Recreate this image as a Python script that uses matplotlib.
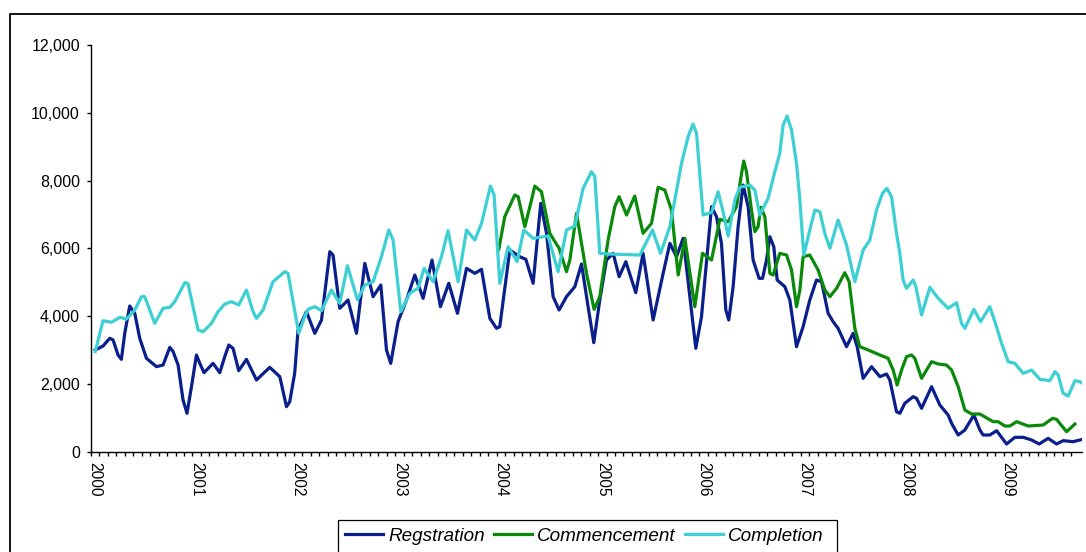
import numpy as np
import matplotlib
matplotlib.use("Agg")
import matplotlib.pyplot as plt
from matplotlib.patches import Rectangle
from matplotlib.ticker import FuncFormatter

# ---- data: time in years since Jan 2000, values in units ----
reg_t = [0.00, 0.077, 0.143, 0.176, 0.225, 0.258, 0.291, 0.340, 0.390, 0.439, 0.505, 0.604, 0.669, 0.735,
         0.767, 0.817, 0.866, 0.905, 0.949, 0.998, 1.031, 1.073, 1.162, 1.228, 1.277, 1.317, 1.359, 1.415,
         1.491, 1.590, 1.721, 1.820, 1.886, 1.918, 1.967, 2.000, 2.083, 2.165, 2.231, 2.313, 2.345, 2.411,
         2.493, 2.576, 2.658, 2.740, 2.816, 2.872, 2.914, 2.986, 3.069, 3.151, 3.233, 3.321, 3.404, 3.486,
         3.572, 3.661, 3.743, 3.809, 3.891, 3.957, 3.989, 4.088, 4.186, 4.246, 4.318, 4.393, 4.450, 4.515,
         4.574, 4.647, 4.729, 4.795, 4.860, 4.916, 4.975, 5.041, 5.107, 5.166, 5.232, 5.330, 5.402, 5.501,
         5.600, 5.666, 5.732, 5.797, 5.922, 5.978, 6.077, 6.126, 6.175, 6.218, 6.247, 6.290, 6.339, 6.388,
         6.438, 6.487, 6.546, 6.580, 6.619, 6.652, 6.691, 6.724, 6.800, 6.849, 6.915, 6.980, 7.046, 7.112,
         7.162, 7.227, 7.276, 7.325, 7.408, 7.473, 7.513, 7.572, 7.655, 7.737, 7.803, 7.835, 7.901, 7.934,
         7.983, 8.065, 8.099, 8.148, 8.247, 8.328, 8.410, 8.444, 8.509, 8.575, 8.664, 8.723, 8.755, 8.821,
         8.888, 8.986, 9.068, 9.150, 9.233, 9.308, 9.396, 9.479, 9.544, 9.643, 9.736]
reg_v = [3007, 3125, 3352, 3303, 2860, 2732, 3499, 4304, 4088, 3352, 2762, 2516, 2565, 3086,
         2968, 2565, 1533, 1141, 1926, 2860, 2614, 2339, 2614, 2339, 2811, 3154, 3056, 2398,
         2732, 2123, 2496, 2221, 1336, 1483, 2329, 3597, 4137, 3499, 3891, 5905, 5807, 4236,
         4481, 3499, 5563, 4579, 4923, 3007, 2614, 3842, 4481, 5218, 4531, 5660, 4284, 4973,
         4088, 5415, 5268, 5386, 3941, 3646, 3695, 5955, 5757, 5681, 4973, 7331, 6447, 4580,
         4186, 4580, 4874, 5543, 4284, 3223, 4481, 5660, 5857, 5169, 5611, 4697, 5857, 3891,
         5268, 6152, 5757, 6300, 3057, 3990, 7232, 6937, 6152, 4186, 3891, 4874, 6643, 7871,
         7232, 5660, 5120, 5120, 5660, 6348, 6052, 5071, 4874, 4481, 3105, 3695, 4481, 5071,
         5021, 4088, 3842, 3646, 3105, 3499, 3105, 2172, 2516, 2221, 2300, 2123, 1188, 1141,
         1436, 1631, 1581, 1288, 1926, 1386, 1091, 846, 501, 649, 1091, 649, 501, 501,
         628, 236, 433, 433, 354, 236, 403, 236, 334, 305, 374]

com_t = [3.979, 4.038, 4.137, 4.170, 4.236, 4.302, 4.334, 4.400, 4.482, 4.574, 4.647, 4.680, 4.746, 4.844,
         4.919, 4.975, 5.057, 5.123, 5.166, 5.239, 5.320, 5.402, 5.485, 5.550, 5.616, 5.682, 5.748, 5.814,
         5.912, 5.988, 6.077, 6.159, 6.241, 6.323, 6.373, 6.395, 6.422, 6.471, 6.504, 6.536, 6.563, 6.603,
         6.652, 6.684, 6.750, 6.817, 6.866, 6.915, 6.948, 6.980, 7.046, 7.128, 7.194, 7.244, 7.310, 7.391,
         7.434, 7.490, 7.539, 7.606, 7.737, 7.818, 7.868, 7.907, 7.951, 8.000, 8.049, 8.082, 8.148, 8.247,
         8.312, 8.394, 8.444, 8.509, 8.575, 8.641, 8.723, 8.854, 8.903, 8.969, 9.019, 9.085, 9.199, 9.347,
         9.440, 9.479, 9.578, 9.660]
com_v = [5975, 6937, 7576, 7527, 6643, 7429, 7841, 7674, 6447, 6005, 5316, 5660, 7037, 5268,
         4206, 4580, 6250, 7232, 7527, 6987, 7547, 6447, 6742, 7803, 7724, 7134, 5218, 6300,
         4284, 5857, 5660, 6860, 6791, 7232, 8216, 8579, 8263, 7134, 6496, 6643, 7214, 6937,
         5268, 5218, 5857, 5807, 5365, 4284, 4776, 5757, 5807, 5365, 4776, 4580, 4826, 5287,
         5021, 3646, 3105, 3028, 2860, 2762, 2417, 1975, 2417, 2811, 2860, 2762, 2172, 2663,
         2594, 2565, 2417, 1926, 1238, 1120, 1120, 894, 894, 766, 766, 894, 766, 796,
         993, 963, 599, 825]

cmp_t = [0.00, 0.077, 0.160, 0.242, 0.308, 0.390, 0.456, 0.488, 0.587, 0.669, 0.735, 0.784, 0.883, 0.915,
         1.014, 1.063, 1.146, 1.211, 1.277, 1.343, 1.415, 1.491, 1.556, 1.590, 1.655, 1.753, 1.869, 1.901,
         2.007, 2.066, 2.099, 2.165, 2.231, 2.329, 2.411, 2.487, 2.586, 2.658, 2.740, 2.822, 2.894, 2.937,
         3.013, 3.102, 3.183, 3.243, 3.331, 3.414, 3.479, 3.578, 3.661, 3.743, 3.809, 3.897, 3.933, 3.989,
         4.071, 4.160, 4.226, 4.318, 4.465, 4.564, 4.647, 4.729, 4.811, 4.893, 4.926, 4.975, 5.074, 5.370,
         5.495, 5.574, 5.666, 5.781, 5.846, 5.895, 5.929, 5.994, 6.077, 6.142, 6.191, 6.241, 6.307, 6.356,
         6.455, 6.504, 6.553, 6.635, 6.701, 6.750, 6.783, 6.822, 6.866, 6.915, 6.948, 6.987, 7.046, 7.096,
         7.145, 7.194, 7.244, 7.325, 7.408, 7.490, 7.572, 7.638, 7.704, 7.763, 7.806, 7.852, 7.901, 7.934,
         7.966, 8.000, 8.065, 8.092, 8.148, 8.230, 8.312, 8.410, 8.493, 8.542, 8.575, 8.664, 8.730, 8.821,
         8.871, 8.937, 9.002, 9.068, 9.150, 9.233, 9.315, 9.413, 9.463, 9.495, 9.544, 9.594, 9.660, 9.709,
         9.742]
cmp_v = [2957, 3871, 3823, 3970, 3920, 4186, 4580, 4580, 3793, 4236, 4265, 4432, 4992, 4963,
         3597, 3547, 3793, 4137, 4363, 4432, 4334, 4776, 4137, 3941, 4186, 5021, 5316, 5270,
         3499, 3990, 4206, 4284, 4166, 4776, 4383, 5493, 4481, 4923, 5021, 5757, 6545, 6250,
         4137, 4678, 4826, 5415, 5021, 5757, 6525, 5021, 6545, 6250, 6742, 7841, 7576, 4973,
         6052, 5611, 6545, 6300, 6368, 5316, 6545, 6663, 7774, 8263, 8126, 5857, 5837, 5807,
         6545, 5857, 6643, 8510, 9295, 9669, 9395, 6987, 7060, 7674, 7084, 6368, 7429, 7803,
         7871, 7724, 6987, 7479, 8263, 8806, 9640, 9905, 9493, 8510, 7429, 5807, 6545, 7134,
         7084, 6447, 6005, 6839, 6102, 5021, 5955, 6250, 7134, 7627, 7774, 7527, 6447, 5857,
         5071, 4826, 5071, 4874, 4039, 4855, 4531, 4236, 4403, 3793, 3646, 4206, 3842, 4284,
         3842, 3204, 2663, 2614, 2320, 2417, 2143, 2103, 2368, 2271, 1730, 1651, 2103, 2074,
         2005]

series_names = ["Regstration", "Commencement", "Completion"]
year_labels = [str(y) for y in range(2000, 2010)]
y_ticks = [0, 2000, 4000, 6000, 8000, 10000, 12000]

colors = ["#0A1E8C", "#0A8A0A", "#3CD0D4"]

W, H = 1086, 552
fig = plt.figure(figsize=(W / 100, H / 100), dpi=100)
plt.rcParams['font.family'] = ['Liberation Sans', 'DejaVu Sans']

ax = fig.add_axes([91 / W, 1 - 452 / H, (1082 - 91) / W, (452 - 45) / H])

base = 2000
ax.plot(base + np.array(reg_t), reg_v, color=colors[0], lw=2.3, label=series_names[0], solid_joinstyle='round')
ax.plot(base + np.array(com_t), com_v, color=colors[1], lw=2.3, label=series_names[1], solid_joinstyle='round')
ax.plot(base + np.array(cmp_t), cmp_v, color=colors[2], lw=2.3, label=series_names[2], solid_joinstyle='round')

ax.set_xlim(base - 0.5 / 12, base + 9.73)
ax.set_ylim(0, 12000)

ax.spines['top'].set_visible(False)
ax.spines['right'].set_visible(False)
ax.spines['left'].set_linewidth(1.0)
ax.spines['bottom'].set_linewidth(1.0)

ax.set_yticks(y_ticks)
ax.yaxis.set_major_formatter(FuncFormatter(lambda v, p: f"{int(v):,}"))
ax.tick_params(axis='y', direction='out', length=3, width=1, pad=5, labelsize=11.5)

ax.set_xticks([base + i for i in range(len(year_labels))])
ax.set_xticklabels(year_labels, rotation=-90, fontsize=11.2)
ax.tick_params(axis='x', which='major', length=0, pad=7)
ax.set_xticks([base + (k - 0.5) / 12 for k in range(0, 117)], minor=True)
ax.tick_params(axis='x', which='minor', direction='out', length=3, width=1)
for lab in ax.get_xticklabels():
    lab.set_va('top')
    lab.set_ha('center')

# outer chart border
fig.add_artist(Rectangle((10 / W, -0.1), 1.2, 1.1 - 14 / H, transform=fig.transFigure,
                         fill=False, edgecolor='black', lw=1.3))
# legend frame
fig.add_artist(Rectangle((338 / W, -0.1), (837 - 338) / W, 0.1 + 1 - 520 / H, transform=fig.transFigure,
                         fill=False, edgecolor='black', lw=0.9))
leg = fig.legend(loc='center left', bbox_to_anchor=(345 / W, 1 - 536 / H), bbox_transform=fig.transFigure,
                 ncol=3, frameon=False, borderpad=0, borderaxespad=0, handlelength=2.0,
                 handletextpad=0.28, columnspacing=0.5,
                 prop=dict(family='Liberation Sans', style='italic', size=13.6))
for line in leg.get_lines():
    line.set_linewidth(2.3)

fig.savefig("out.png", dpi=100)
